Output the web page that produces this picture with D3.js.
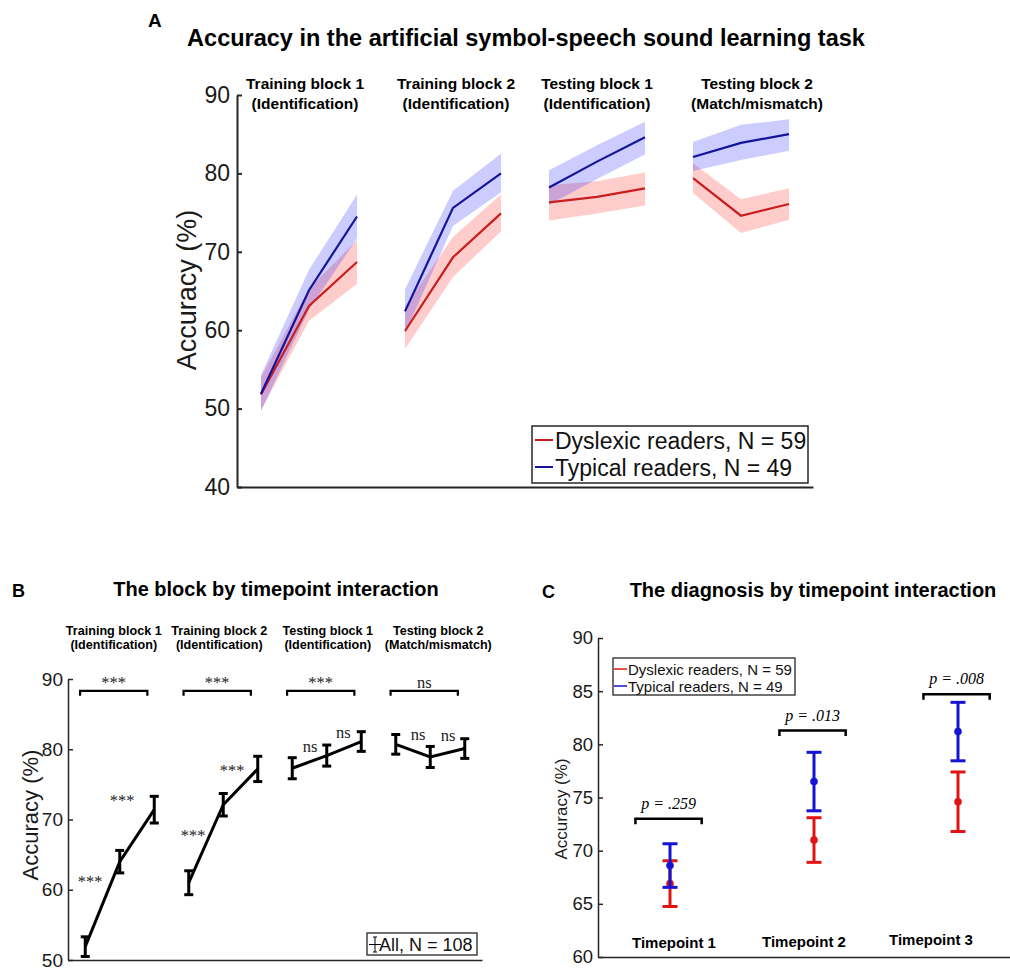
<!DOCTYPE html>
<html>
<head>
<meta charset="utf-8">
<script src="https://cdn.jsdelivr.net/npm/d3@7"></script>
<style>
  body { margin: 0; background: #fff; }
  svg { display: block; }
</style>
</head>
<body>
<svg id="fig" width="1010" height="969"></svg>
<script>
// ---------------- data ----------------
const blockNames = ["Training block 1", "Training block 2", "Testing block 1", "Testing block 2"];
const blockTasks = ["(Identification)", "(Identification)", "(Identification)", "(Match/mismatch)"];
const groupNames = ["Dyslexic readers, N = 59", "Typical readers, N = 49"];

// Panel A: accuracy per timepoint (3 per block), with shaded error band limits
const dysMean  = [51.8, 63.1, 68.7, 59.9, 69.3, 74.9, 76.3, 77.0, 78.1, 79.4, 74.6, 76.1];
const dysUpper = [54.0, 65.3, 71.5, 63.0, 71.9, 77.3, 78.5, 79.0, 80.1, 81.3, 76.7, 78.1];
const dysLower = [49.8, 61.2, 65.9, 57.6, 66.8, 72.6, 74.0, 74.9, 75.9, 77.5, 72.4, 74.1];
const typMean  = [51.9, 65.1, 74.5, 62.4, 75.6, 80.0, 78.2, 81.5, 84.6, 82.1, 83.9, 85.0];
const typUpper = [54.3, 67.7, 77.3, 65.2, 77.8, 82.5, 80.4, 83.6, 86.6, 84.0, 86.2, 86.9];
const typLower = [49.7, 62.6, 71.7, 59.6, 73.3, 77.6, 76.0, 79.3, 82.4, 80.3, 81.7, 82.9];
const ticksA = [40, 50, 60, 70, 80, 90];

// Panel B: whole sample
const allLabel = "All, N = 108";
const allMean = [51.9, 64.0, 71.4, 61.0, 72.1, 77.2, 77.3, 79.1, 81.1, 80.7, 78.9, 80.1];
const allErr  = [1.4, 1.6, 1.9, 1.7, 1.6, 1.8, 1.5, 1.5, 1.4, 1.4, 1.5, 1.4];
const blockSig = ["***", "***", "***", "ns"];
const pairSig  = ["***", "***", "***", "***", "ns", "ns", "ns", "ns"];
const ticksB = [50, 60, 70, 80, 90];

// Panel C: diagnosis by timepoint
const timepoints = ["Timepoint 1", "Timepoint 2", "Timepoint 3"];
const dysC    = [66.9, 71.0, 74.6];
const dysCErr = [2.15, 2.1, 2.8];
const typC    = [68.6, 76.5, 81.2];
const typCErr = [2.05, 2.75, 2.75];
const pLabels = ["p = .259", "p = .013", "p = .008"];
const bracketC = [73.0, 81.3, 84.7];
const ticksC = [60, 65, 70, 75, 80, 85, 90];

// ---------------- styling ----------------
const SANS = "'Liberation Sans', Arial, Helvetica, sans-serif";
const SERIF = "'Liberation Serif', 'Times New Roman', serif";
const AXIS = "#262626";
const RED = "#c81e1e", BLUE = "#14149b";
const RED_C = "#e01414", BLUE_C = "#1414d2";

const svg = d3.select("#fig");

function styleAxis(g, fontSize, width) {
  g.select(".domain").attr("stroke", AXIS).attr("stroke-width", width);
  g.selectAll(".tick line").attr("stroke", AXIS).attr("stroke-width", width);
  g.selectAll(".tick text").attr("fill", "#1a1a1a")
    .style("font-family", SANS).style("font-size", fontSize + "px");
}

function text(g, str, x, y, opts) {
  const t = g.append("text").attr("x", x).attr("y", y).text(str)
    .style("font-family", opts.family || SANS)
    .style("font-size", opts.size + "px")
    .attr("fill", opts.fill || "#000")
    .attr("text-anchor", opts.anchor || "middle");
  if (opts.bold) t.style("font-weight", "bold");
  if (opts.italic) t.style("font-style", "italic");
  return t;
}

// ================= Panel A =================
{
  const g = svg.append("g");
  const x = d3.scaleLinear().domain([0.5, 12.5]).range([237, 813]);
  const y = d3.scaleLinear().domain([40, 90]).range([487, 95]);

  text(g, "A", 148, 27, { size: 19, bold: true, anchor: "start" });
  text(g, "Accuracy in the artificial symbol-speech sound learning task", 526, 46, { size: 23.5, bold: true });

  const labelShift = [-4, 3, 0, 16];
  blockNames.forEach((b, i) => {
    const cx = x(3 * i + 2) + labelShift[i];
    text(g, b, cx, 89, { size: 15.5, bold: true });
    text(g, blockTasks[i], cx, 109, { size: 15.5, bold: true });
  });

  const series = [
    { mean: dysMean, lo: dysLower, hi: dysUpper, color: RED, fill: "rgb(255,0,0)" },
    { mean: typMean, lo: typLower, hi: typUpper, color: BLUE, fill: "rgb(0,0,255)" }
  ];
  const area = d3.area().x(d => x(d.x)).y0(d => y(d.lo)).y1(d => y(d.hi));
  const line = d3.line().x(d => x(d.x)).y(d => y(d.v));

  series.forEach(s => {
    for (let b = 0; b < 4; b++) {
      const pts = d3.range(3 * b, 3 * b + 3).map(i => ({ x: i + 1, v: s.mean[i], lo: s.lo[i], hi: s.hi[i] }));
      g.append("path").attr("d", area(pts)).attr("fill", s.fill).attr("fill-opacity", 0.2).attr("stroke", "none");
    }
  });
  series.forEach(s => {
    for (let b = 0; b < 4; b++) {
      const pts = d3.range(3 * b, 3 * b + 3).map(i => ({ x: i + 1, v: s.mean[i] }));
      g.append("path").attr("d", line(pts)).attr("fill", "none").attr("stroke", s.color).attr("stroke-width", 2.2);
    }
  });

  const ay = g.append("g").attr("transform", "translate(237,0)")
    .call(d3.axisLeft(y).tickValues(ticksA).tickSizeInner(-5).tickSizeOuter(0).tickPadding(7));
  styleAxis(ay, 23, 2);
  const ax = g.append("g").attr("transform", "translate(0,487)")
    .call(d3.axisBottom(x).tickValues([]).tickSizeOuter(0));
  styleAxis(ax, 23, 2);

  g.append("text").attr("transform", "translate(196,290) rotate(-90)")
    .attr("text-anchor", "middle").text("Accuracy (%)")
    .style("font-family", SANS).style("font-size", "27px").attr("fill", "#1a1a1a");

  // legend
  const lg = g.append("g");
  lg.append("rect").attr("x", 532).attr("y", 426).attr("width", 276).attr("height", 57)
    .attr("fill", "#fff").attr("stroke", AXIS).attr("stroke-width", 1.5);
  [RED, BLUE].forEach((c, i) => {
    const yy = 440 + i * 27;
    lg.append("line").attr("x1", 535).attr("x2", 553).attr("y1", yy).attr("y2", yy)
      .attr("stroke", c).attr("stroke-width", 2);
    text(lg, groupNames[i], 555, yy + 9, { size: 23, anchor: "start", fill: "#111" });
  });
}

// ================= Panel B =================
{
  const g = svg.append("g");
  const x = d3.scaleLinear().domain([0.5, 12.5]).range([68, 482]);
  const y = d3.scaleLinear().domain([50, 90]).range([960, 679]);

  text(g, "B", 12, 597, { size: 18, bold: true, anchor: "start" });
  text(g, "The block by timepoint interaction", 276, 596, { size: 20, bold: true });

  const labelShift = [-6, -4, 1, 8];
  blockNames.forEach((b, i) => {
    const cx = x(3 * i + 2) + labelShift[i];
    text(g, b, cx, 635, { size: 12.6, bold: true });
    text(g, blockTasks[i], cx, 649, { size: 12.6, bold: true });
  });

  const line = d3.line().x(d => x(d.x)).y(d => y(d.v));
  for (let b = 0; b < 4; b++) {
    const pts = d3.range(3 * b, 3 * b + 3).map(i => ({ x: i + 1, v: allMean[i] }));
    g.append("path").attr("d", line(pts)).attr("fill", "none").attr("stroke", "#000").attr("stroke-width", 3);
  }
  allMean.forEach((m, i) => {
    const cx = x(i + 1), top = y(m + allErr[i]), bot = y(m - allErr[i]);
    g.append("line").attr("x1", cx).attr("x2", cx).attr("y1", top).attr("y2", bot).attr("stroke", "#000").attr("stroke-width", 3);
    [top, bot].forEach(yy => g.append("line").attr("x1", cx - 4.5).attr("x2", cx + 4.5).attr("y1", yy).attr("y2", yy)
      .attr("stroke", "#000").attr("stroke-width", 3));
  });

  // block-level brackets and labels
  const brTop = 88.3, brLeg = 87.6;
  blockSig.forEach((s, b) => {
    const x0 = x(3 * b + 1 - 0.15), x1 = x(3 * b + 3 - 0.2);
    g.append("path").attr("d", `M${x0},${y(brLeg)}V${y(brTop)}H${x1}V${y(brLeg)}`)
      .attr("fill", "none").attr("stroke", "#000").attr("stroke-width", 2.2);
    text(g, s, (x0 + x1) / 2, y(brTop) - 3, { size: 16.5, family: SERIF, fill: "#222" });
  });

  // pairwise labels between consecutive timepoints
  const pairPos = [[1.14, 60.4], [2.07, 71.9], [4.13, 66.9], [5.26, 76.2],
                   [7.52, 79.6], [8.48, 81.6], [10.65, 81.3], [11.52, 81.15]];
  pairSig.forEach((s, i) => {
    text(g, s, x(pairPos[i][0]), y(pairPos[i][1]), { size: 16.5, family: SERIF, fill: "#222" });
  });

  const ay = g.append("g").attr("transform", "translate(68,0)")
    .call(d3.axisLeft(y).tickValues(ticksB).tickSizeInner(-5).tickSizeOuter(0).tickPadding(5));
  styleAxis(ay, 19, 1.5);
  const ax = g.append("g").attr("transform", "translate(0,960)")
    .call(d3.axisBottom(x).tickValues([]).tickSizeOuter(0));
  styleAxis(ax, 19, 1.5);

  g.append("text").attr("transform", "translate(38,815) rotate(-90)")
    .attr("text-anchor", "middle").text("Accuracy (%)")
    .style("font-family", SANS).style("font-size", "22px").attr("fill", "#1a1a1a");

  // legend
  const lg = g.append("g");
  lg.append("rect").attr("x", 367).attr("y", 933).attr("width", 110).attr("height", 22)
    .attr("fill", "#fff").attr("stroke", AXIS).attr("stroke-width", 1.3);
  lg.append("line").attr("x1", 375).attr("x2", 375).attr("y1", 937).attr("y2", 952).attr("stroke", "#000").attr("stroke-width", 1);
  [937, 952].forEach(yy => lg.append("line").attr("x1", 373).attr("x2", 377).attr("y1", yy).attr("y2", yy).attr("stroke", "#000").attr("stroke-width", 1));
  lg.append("line").attr("x1", 369).attr("x2", 381).attr("y1", 944.5).attr("y2", 944.5).attr("stroke", "#000").attr("stroke-width", 1);
  text(lg, allLabel, 379, 951, { size: 18, anchor: "start", fill: "#111" });
}

// ================= Panel C =================
{
  const g = svg.append("g");
  const x = d3.scaleLinear().domain([0.5, 3.5]).range([598, 1030]);
  const y = d3.scaleLinear().domain([60, 90]).range([957, 638]);

  text(g, "C", 542, 598, { size: 18, bold: true, anchor: "start" });
  text(g, "The diagnosis by timepoint interaction", 813, 597, { size: 20, bold: true });

  const groups = [
    { mean: dysC, err: dysCErr, color: RED_C },
    { mean: typC, err: typCErr, color: BLUE_C }
  ];
  groups.forEach(s => {
    s.mean.forEach((m, i) => {
      const cx = x(i + 1), top = y(m + s.err[i]), bot = y(m - s.err[i]);
      g.append("line").attr("x1", cx).attr("x2", cx).attr("y1", top).attr("y2", bot).attr("stroke", s.color).attr("stroke-width", 3);
      [top, bot].forEach(yy => g.append("line").attr("x1", cx - 7.5).attr("x2", cx + 7.5).attr("y1", yy).attr("y2", yy)
        .attr("stroke", s.color).attr("stroke-width", 3));
      g.append("circle").attr("cx", cx).attr("cy", y(m)).attr("r", 3.8).attr("fill", s.color);
    });
  });

  bracketC.forEach((v, i) => {
    const x0 = x(i + 1 - 0.24), x1 = x(i + 1 + 0.22);
    const top = y(v), leg = y(v) + 5.5;
    g.append("path").attr("d", `M${x0},${leg}V${top}H${x1}V${leg}`)
      .attr("fill", "none").attr("stroke", "#000").attr("stroke-width", 2.5);
    text(g, pLabels[i], (x0 + x1) / 2, top - 10, { size: 16, family: SERIF, italic: true });
  });

  const tpShift = [4, -10, -27];
  const tpBase = [948, 947, 945];
  timepoints.forEach((t, i) => {
    text(g, t, x(i + 1) + tpShift[i], tpBase[i], { size: 15, bold: true });
  });

  const ay = g.append("g").attr("transform", "translate(598,0)")
    .call(d3.axisLeft(y).tickValues(ticksC).tickSizeInner(-5).tickSizeOuter(0).tickPadding(5));
  styleAxis(ay, 18.5, 1.5);
  const ax = g.append("g").attr("transform", "translate(0,957)")
    .call(d3.axisBottom(x).tickValues([]).tickSizeOuter(0));
  styleAxis(ax, 18.5, 1.5);

  g.append("text").attr("transform", "translate(567,809) rotate(-90)")
    .attr("text-anchor", "middle").text("Accuracy (%)")
    .style("font-family", SANS).style("font-size", "17px").attr("fill", "#1a1a1a");

  // legend
  const lg = g.append("g");
  lg.append("rect").attr("x", 613).attr("y", 658).attr("width", 182).attr("height", 37)
    .attr("fill", "#fff").attr("stroke", AXIS).attr("stroke-width", 1.3);
  [RED_C, BLUE_C].forEach((c, i) => {
    const yy = 669 + i * 17;
    lg.append("line").attr("x1", 614).attr("x2", 627).attr("y1", yy).attr("y2", yy)
      .attr("stroke", c).attr("stroke-width", 1.5);
    text(lg, groupNames[i], 628, yy + 5.5, { size: 15, anchor: "start", fill: "#111" });
  });
}
</script>
</body>
</html>
